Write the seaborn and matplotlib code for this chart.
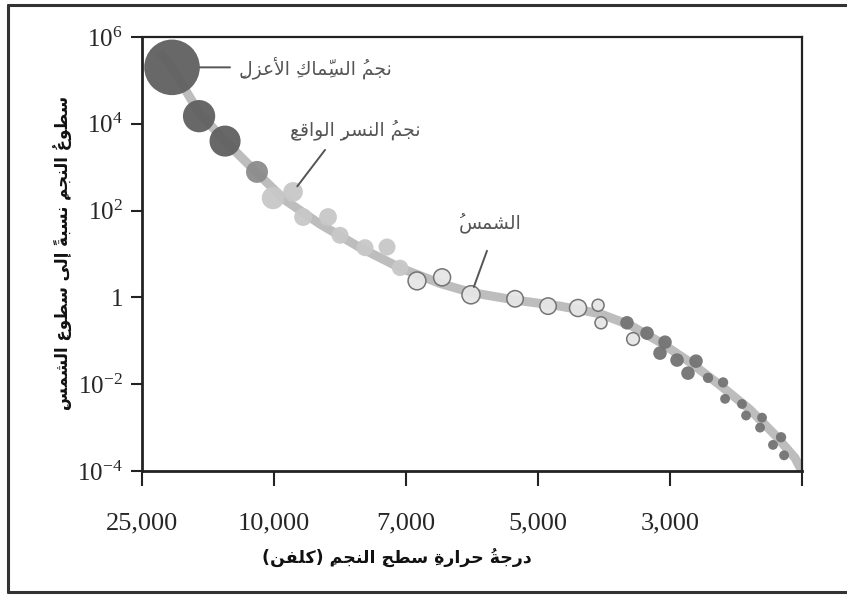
import matplotlib
matplotlib.use("Agg")
import matplotlib.pyplot as plt
import seaborn as sns
import pandas as pd
from matplotlib.lines import Line2D

# --- data (x = position along the temperature axis, tick index units) ---
temp_ticks = ["25,000", "10,000", "7,000", "5,000", "3,000"]
lum_ticks = [1e-4, 1e-2, 1, 1e2, 1e4, 1e6]
lum_tick_labels = [r"$\mathregular{10^{-4}}$", r"$\mathregular{10^{-2}}$", r"$\mathregular{1}$",
                   r"$\mathregular{10^{2}}$", r"$\mathregular{10^{4}}$", r"$\mathregular{10^{6}}$"]

# main sequence band
seq_x = [0.136, 0.227, 0.432, 0.629, 0.871, 1.083, 1.348, 1.652, 1.955, 2.258, 2.492,
         2.826, 3.167, 3.47, 3.697, 3.924, 4.152, 4.379, 4.606, 4.795, 4.947, 5.02]
seq_lum = [4.5e5, 2.0e5, 1.8e4, 4.0e3, 740, 175, 49, 14, 4.8, 2.1, 1.3,
           0.87, 0.63, 0.42, 0.23, 0.093, 0.032, 0.0095, 0.0026, 6.8e-4, 2.0e-4, 7.6e-5]

# hot, bright stars
o_x = [0.227, 0.432, 0.629]
o_lum = [2.0e5, 1.5e4, 4.0e3]
o_size = [1600, 540, 500]

b_x = [0.871]
b_lum = [780]
b_size = [250]

a_x = [0.992, 1.144, 1.22, 1.409, 1.5, 1.689, 1.856, 1.955]
a_lum = [195, 270, 71, 71, 27, 14, 14.5, 4.8]
a_size = [260, 200, 165, 165, 150, 150, 150, 140]

fg_x = [2.083, 2.273, 2.492, 2.826, 3.076, 3.303, 3.455, 3.477, 3.72]
fg_lum = [2.4, 2.9, 1.15, 0.93, 0.63, 0.57, 0.66, 0.26, 0.11]
fg_size = [165, 150, 170, 140, 140, 150, 75, 75, 85]

km_x = [3.674, 3.826, 3.962, 3.924, 4.053, 4.197, 4.136, 4.288, 4.402, 4.417,
        4.545, 4.576, 4.697, 4.682, 4.841, 4.78, 4.864]
km_lum = [0.26, 0.15, 0.093, 0.052, 0.036, 0.034, 0.018, 0.014, 0.011, 0.0046,
          0.0035, 0.0019, 0.0017, 0.0010, 6.0e-4, 4.0e-4, 2.3e-4]
km_size = [95, 95, 95, 95, 95, 95, 95, 55, 55, 50, 50, 50, 50, 50, 55, 50, 50]

# labelled stars
named = ["نجمُ السِّماكِ الأعزلِ", "نجمُ النسرِ الواقعِ", "الشمسُ"]
named_x = [0.227, 1.144, 2.492]
named_lum = [2.0e5, 270, 1.15]

xlabel = "درجةُ حرارةِ سطحِ النجمِ (كلفن)"
ylabel = "سطوعُ النجمِ نسبةً إلى سطوعِ الشمسِ"


# --- minimal Arabic shaping (matplotlib has no bidi / joining) ---
FOUR = {0x626: 0xFE89, 0x628: 0xFE8F, 0x62A: 0xFE95, 0x62B: 0xFE99, 0x62C: 0xFE9D,
        0x62D: 0xFEA1, 0x62E: 0xFEA5, 0x633: 0xFEB1, 0x634: 0xFEB5, 0x635: 0xFEB9,
        0x636: 0xFEBD, 0x637: 0xFEC1, 0x638: 0xFEC5, 0x639: 0xFEC9, 0x63A: 0xFECD,
        0x641: 0xFED1, 0x642: 0xFED5, 0x643: 0xFED9, 0x644: 0xFEDD, 0x645: 0xFEE1,
        0x646: 0xFEE5, 0x647: 0xFEE9, 0x64A: 0xFEF1}
TWO = {0x622: 0xFE81, 0x623: 0xFE83, 0x624: 0xFE85, 0x625: 0xFE87, 0x627: 0xFE8D,
       0x629: 0xFE93, 0x62F: 0xFEA9, 0x630: 0xFEAB, 0x631: 0xFEAD, 0x632: 0xFEAF,
       0x648: 0xFEED, 0x649: 0xFEEF}
LAMALEF = {0x622: 0xFEF5, 0x623: 0xFEF7, 0x625: 0xFEF9, 0x627: 0xFEFB}


def shape(text):
    clusters = []
    for ch in text:
        if 0x64B <= ord(ch) <= 0x652 and clusters:
            clusters[-1][1].append(ch)
        else:
            clusters.append([ord(ch), []])
    merged = []
    i = 0
    while i < len(clusters):
        b, m = clusters[i]
        if b == 0x644 and i + 1 < len(clusters) and clusters[i + 1][0] in LAMALEF:
            merged.append([("LA", LAMALEF[clusters[i + 1][0]]), m + clusters[i + 1][1]])
            i += 2
        else:
            merged.append([b, m])
            i += 1

    def joins_right(b):
        return isinstance(b, tuple) or b in FOUR or b in TWO

    out = []
    for i, (b, m) in enumerate(merged):
        prev = i > 0 and merged[i - 1][0] in FOUR and joins_right(b)
        nxt = (not isinstance(b, tuple)) and b in FOUR and i + 1 < len(merged) and joins_right(merged[i + 1][0])
        if isinstance(b, tuple):
            g = chr(b[1] + (1 if prev else 0))
        elif b in FOUR:
            g = chr(FOUR[b] + (3 if prev and nxt else 1 if prev else 2 if nxt else 0))
        elif b in TWO:
            g = chr(TWO[b] + (1 if prev else 0))
        else:
            g = {"(": ")", ")": "("}.get(chr(b), chr(b))
        # marks go before their base so they land on it when drawn left to right
        out.append("".join(m) + g)
    return "".join(reversed(out))


sns.set_theme(style="white")
plt.rcParams["font.family"] = ["DejaVu Sans"]

fig = plt.figure(figsize=(8.47, 5.96), dpi=100)
ax = fig.add_axes([0.1677, 0.2097, 0.7792, 0.7282])

seq = pd.DataFrame({"x": seq_x, "lum": seq_lum})
sns.lineplot(data=seq, x="x", y="lum", ax=ax, color="#bdbdbd", linewidth=6.5,
             solid_capstyle="butt", zorder=1, sort=False)

groups = [
    (a_x, a_lum, a_size, "#c8c8c8", "none", 0),
    (b_x, b_lum, b_size, "#8c8c8c", "none", 0),
    (o_x, o_lum, o_size, "#606060", "none", 0),
    (fg_x, fg_lum, fg_size, "#e6e6e6", "#6e6e6e", 1.1),
    (km_x, km_lum, km_size, "#737373", "none", 0),
]
for gx, gl, gs, fc, ec, lw in groups:
    df = pd.DataFrame({"x": gx, "lum": gl})
    sns.scatterplot(data=df, x="x", y="lum", ax=ax, s=gs, color=fc, edgecolor=ec,
                    linewidth=lw, alpha=0.95, zorder=3)

ax.set_yscale("log")
ax.set_xlim(0, 5)
ax.set_ylim(1e-4, 1e6)
ax.set_xticks(range(6))
ax.set_xticklabels(temp_ticks + [""], fontfamily="Liberation Serif", fontsize=19)
ax.set_yticks(lum_ticks)
ax.set_yticklabels(lum_tick_labels, fontfamily="Liberation Serif", fontsize=18)
ax.minorticks_off()
ax.tick_params(axis="x", direction="out", length=11, width=1.5, color="#222", pad=19, bottom=True)
ax.tick_params(axis="y", direction="out", length=8, width=1.5, color="#222", pad=6, left=True)
for side in ["left", "bottom"]:
    ax.spines[side].set_linewidth(2.0)
for side in ["top", "right"]:
    ax.spines[side].set_linewidth(1.6)
for sp in ax.spines.values():
    sp.set_color("#222")
ax.set_xlabel("")
ax.set_ylabel("")

# annotations (offsets in pixels from the star)
line_end = [(58, 0), (32, 42), (16, 44)]
line_shrink = [20, 5, 6]
txt_pos = [(143, 0), (62, 62), (19, 72)]
for name, nx, nl, le, sh, tp in zip(named, named_x, named_lum, line_end, line_shrink, txt_pos):
    ax.annotate("", xy=(nx, nl), xytext=le, textcoords="offset pixels",
                arrowprops=dict(arrowstyle="-", color="#555", lw=1.4, shrinkA=0, shrinkB=sh))
    ax.annotate(shape(name), xy=(nx, nl), xytext=tp, textcoords="offset pixels",
                ha="center", va="center", fontsize=13.5, color="#555")

fig.text(397 / 847, 1 - 557 / 596, shape(xlabel), ha="center", va="center",
         fontsize=12.5, fontweight="bold", color="#111")
fig.text(62 / 847, 1 - 253 / 596, shape(ylabel), ha="center", va="center",
         rotation=90, fontsize=12, fontweight="bold", color="#111")

# outer frame
for xs, ys in [([8, 8], [5, 592]), ([8, 847], [5, 5]), ([8, 847], [592, 592])]:
    fig.add_artist(Line2D([x / 847 for x in xs], [1 - y / 596 for y in ys],
                          color="#333", linewidth=2.2))

fig.savefig("out.png", dpi=100)
